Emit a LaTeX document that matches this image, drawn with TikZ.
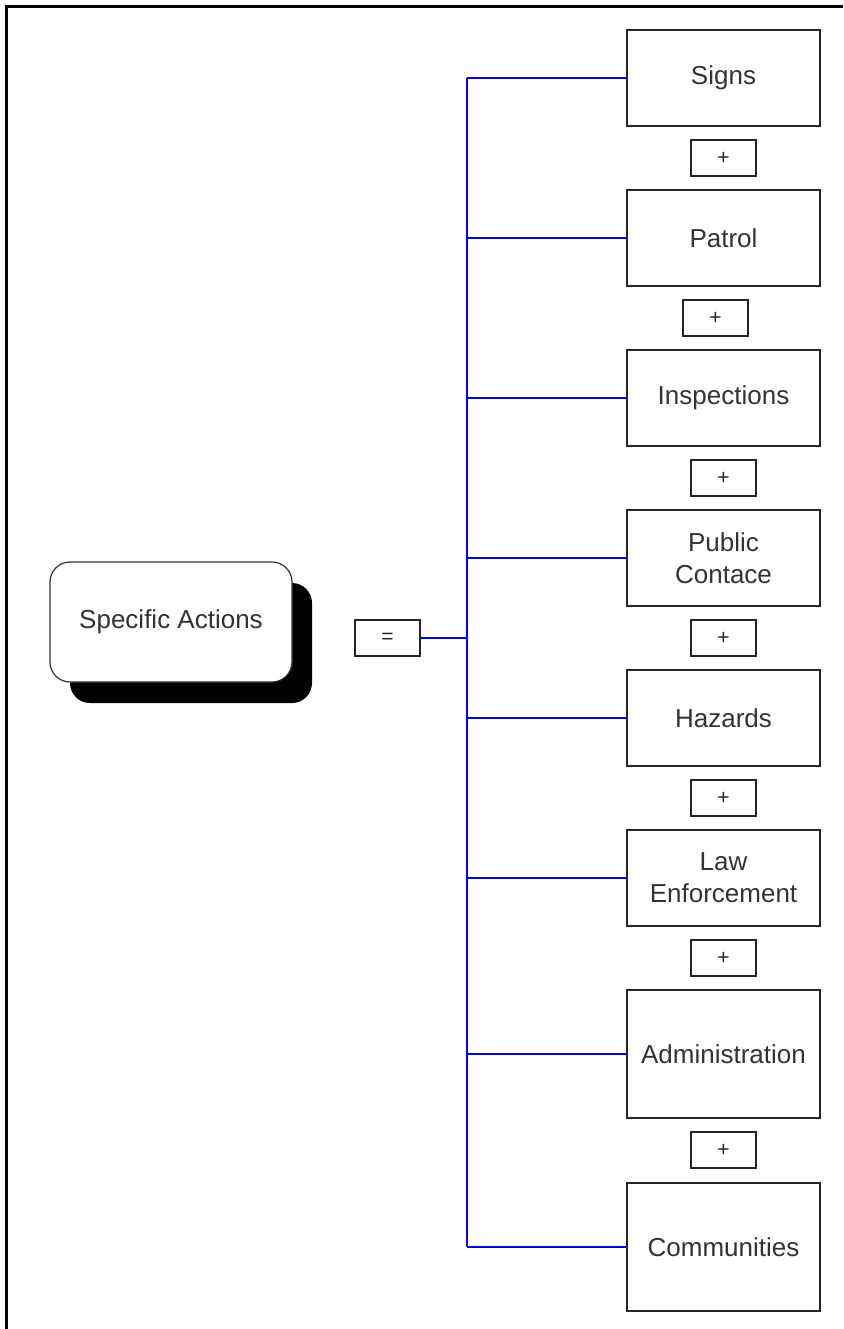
\documentclass[tikz,border=0pt]{standalone}
\usepackage{fontspec}
\setmainfont{Liberation Sans}
\usepackage{tikz}
\usetikzlibrary{positioning,shadows}

\tikzset{
	item/.style={draw=black!85,line width=1.6pt,fill=white,minimum width=193pt,minimum height=96pt,align=center,text=black!80,font=\fontsize{26}{32}\selectfont},
	tall/.style={item,minimum height=128pt},
	op/.style={draw=black!85,line width=1.6pt,fill=white,minimum width=65pt,minimum height=36pt,inner sep=0pt,text=black!85,font=\fontsize{21}{24}\selectfont},
	link/.style={draw=blue,line width=1.5pt},
	mainbox/.style={draw=black!80,line width=1.2pt,fill=white,rounded corners=20pt,minimum width=242pt,minimum height=120pt,text=black!80,font=\fontsize{26}{30}\selectfont,
		drop shadow={shadow xshift=20pt,shadow yshift=-21pt,fill=black,opacity=1}}
}

\begin{document}
\begin{tikzpicture}[x=1pt,y=-1pt]
		\useasboundingbox (0,0) rectangle (843,1329);
		% frame
		\draw[line width=3.2pt] (6.5,1329) -- (6.5,6.5) -- (843,6.5);
		% left side
		\node[mainbox] (act) at (171,622) {Specific Actions};
		\node[op] (eq) at (387.5,638) {=};
		\coordinate (bus) at (467,638);
		% right column
		\node[item] (signs) at (723.5,78) {Signs};
		\node[item] (patrol) at (723.5,238) {Patrol};
		\node[item] (insp) at (723.5,398) {Inspections};
		\node[item] (pub) at (723.5,558) {Public\\Contace};
		\node[item] (haz) at (723.5,718) {Hazards};
		\node[item] (law) at (723.5,878) {Law\\Enforcement};
		\node[tall] (adm) at (723.5,1054) {Administration};
		\node[tall] (comm) at (723.5,1247) {Communities};
		% plus boxes
		\node[op] (p1) at (723.5,158) {+};
		\node[op] (p2) at (715.5,318) {+};
		\node[op] (p3) at (723.5,478) {+};
		\node[op] (p4) at (723.5,638) {+};
		\node[op] (p5) at (723.5,798) {+};
		\node[op] (p6) at (723.5,958) {+};
		\node[op] (p7) at (723.5,1150) {+};
		% connectors
		\draw[link] (eq.east) -- (bus);
		\draw[link] (bus |- signs) -- (bus |- comm);
		\draw[link] (bus |- signs) -- (signs.west);
		\draw[link] (bus |- patrol) -- (patrol.west);
		\draw[link] (bus |- insp) -- (insp.west);
		\draw[link] (bus |- pub) -- (pub.west);
		\draw[link] (bus |- haz) -- (haz.west);
		\draw[link] (bus |- law) -- (law.west);
		\draw[link] (bus |- adm) -- (adm.west);
		\draw[link] (bus |- comm) -- (comm.west);
\end{tikzpicture}
\end{document}
